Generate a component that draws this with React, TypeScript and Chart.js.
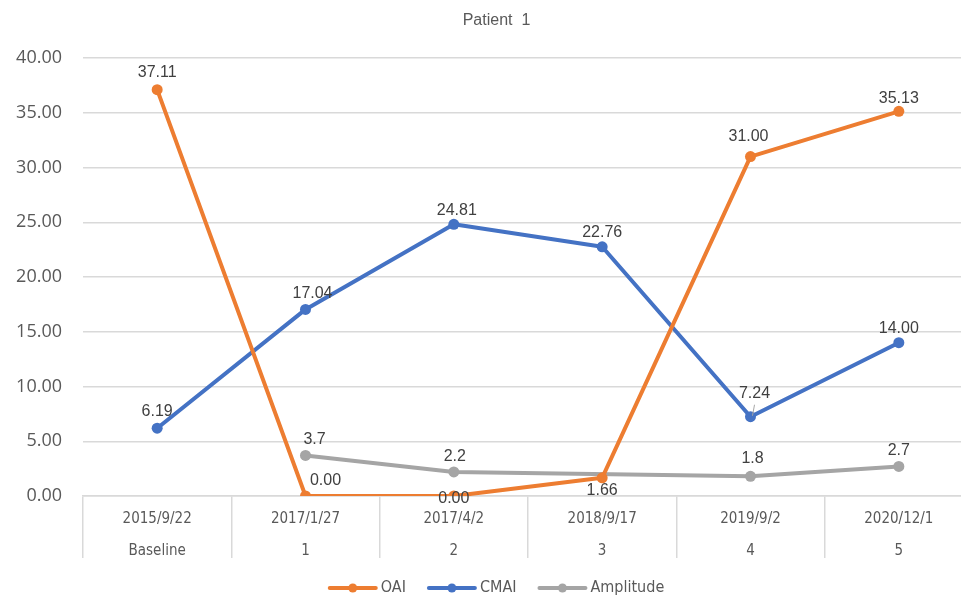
import React, { useEffect, useRef } from "react";
import { Chart, registerables } from "chart.js";

Chart.register(...registerables);

const dateLabels = ["2015/9/22", "2017/1/27", "2017/4/2", "2018/9/17", "2019/9/2", "2020/12/1"];
const visitLabels = ["Baseline", "1", "2", "3", "4", "5"];
const oaiValues = [37.11, 0.0, 0.0, 1.66, 31.0, 35.13];
const cmaiValues = [6.19, 17.04, 24.81, 22.76, 7.24, 14.0];
const amplitudeValues: (number | null)[] = [null, 3.7, 2.2, null, 1.8, 2.7];
const oaiLabelText = ["37.11", "0.00", "0.00", "1.66", "31.00", "35.13"];
const cmaiLabelText = ["6.19", "17.04", "24.81", "22.76", "7.24", "14.00"];
const amplitudeLabelText = ["", "3.7", "2.2", "", "1.8", "2.7"];
const titleText = "Patient  1";
const yMin = 0;
const yMax = 40;
const yStep = 5;

const COLORS = { oai: "#ED7D31", cmai: "#4472C4", amp: "#A5A5A5" };
const TEXT = "#595959";
const LABEL_TEXT = "#404040";
const GRID = "#D9D9D9";
const NARROW = "'Liberation Sans Narrow', 'DejaVu Sans Condensed', sans-serif";
const SANS = "'Liberation Sans', Arial, sans-serif";

// label placement offsets (dx, dy) relative to the point, per dataset/point
const labelOffsets: Record<string, [number, number][]> = {
  OAI: [[0, -17], [20, -15], [0, 3], [0, 13], [-2, -20], [0, -13]],
  CMAI: [[0, -17], [7, -16], [3, -14], [0, -14], [4, -23], [0, -14]],
  Amplitude: [[0, -16], [9, -16], [1, -15], [0, -16], [2, -18], [0, -16]],
};

const overlayPlugin = {
  id: "overlay",
  afterDatasetsDraw(chart: any) {
    const ctx = chart.ctx;
    const texts = [oaiLabelText, cmaiLabelText, amplitudeLabelText];
    ctx.save();
    chart.data.datasets.forEach((ds: any, di: number) => {
      const meta = chart.getDatasetMeta(di);
      const offs = labelOffsets[ds.label];
      meta.data.forEach((pt: any, i: number) => {
        const t = texts[di][i];
        if (!t || ds.data[i] === null) return;
        const [dx, dy] = offs[i];
        ctx.font = `16px ${SANS}`;
        ctx.fillStyle = LABEL_TEXT;
        ctx.textAlign = "center";
        ctx.textBaseline = "middle";
        ctx.fillText(t, pt.x + dx, pt.y + dy);
        if (ds.label === "CMAI" && i === 4) {
          ctx.strokeStyle = "#A6A6A6";
          ctx.lineWidth = 1;
          ctx.beginPath();
          ctx.moveTo(pt.x + 2, pt.y - 1);
          ctx.lineTo(pt.x + 4, pt.y - 12);
          ctx.stroke();
        }
      });
    });
    ctx.restore();
  },
  afterDraw(chart: any) {
    const ctx = chart.ctx;
    const x = chart.scales.x;
    const area = chart.chartArea;
    ctx.save();
    ctx.font = `15px ${NARROW}`;
    ctx.fillStyle = TEXT;
    ctx.textAlign = "center";
    ctx.textBaseline = "middle";
    dateLabels.forEach((d, i) => {
      const px = x.getPixelForValue(i);
      ctx.fillText(d, px, area.bottom + 23);
      ctx.fillText(visitLabels[i], px, area.bottom + 55);
    });
    const cx = chart.width / 2;
    ctx.font = `16px ${SANS}`;
    ctx.fillStyle = TEXT;
    ctx.fillText(titleText, cx, 21);
    const items = [
      { label: "OAI", color: COLORS.oai },
      { label: "CMAI", color: COLORS.cmai },
      { label: "Amplitude", color: COLORS.amp },
    ];
    ctx.font = `16px ${NARROW}`;
    const lineW = 48;
    const gapText = 4;
    const gapItem = 22;
    const widths = items.map((it) => lineW + gapText + ctx.measureText(it.label).width);
    const total = widths.reduce((a, b) => a + b, 0) + gapItem * (items.length - 1);
    let lx = cx - total / 2;
    const ly = 588;
    items.forEach((it, i) => {
      ctx.strokeStyle = it.color;
      ctx.lineWidth = 4;
      ctx.lineCap = "round";
      ctx.beginPath();
      ctx.moveTo(lx + 1, ly);
      ctx.lineTo(lx + lineW - 1, ly);
      ctx.stroke();
      ctx.fillStyle = it.color;
      ctx.beginPath();
      ctx.arc(lx + lineW / 2, ly, 4.5, 0, Math.PI * 2);
      ctx.fill();
      ctx.fillStyle = TEXT;
      ctx.textAlign = "left";
      ctx.fillText(it.label, lx + lineW + gapText, ly);
      lx += widths[i] + gapItem;
    });
    ctx.restore();
  },
};

export default function App() {
  const ref = useRef<HTMLCanvasElement | null>(null);
  useEffect(() => {
    if (!ref.current) return;
    const mk = (label: string, data: (number | null)[], color: string) => ({
      label,
      data,
      borderColor: color,
      backgroundColor: color,
      pointBackgroundColor: color,
      pointBorderColor: color,
      borderWidth: 4,
      pointRadius: 5.5,
      pointBorderWidth: 0,
      tension: 0,
      spanGaps: true,
      borderJoinStyle: "round" as const,
      borderCapStyle: "round" as const,
    });
    const chart = new Chart(ref.current, {
      type: "line",
      data: {
        labels: dateLabels,
        datasets: [
          mk("OAI", oaiValues, COLORS.oai),
          mk("CMAI", cmaiValues, COLORS.cmai),
          mk("Amplitude", amplitudeValues, COLORS.amp),
        ],
      },
      options: {
        responsive: false,
        animation: false,
        devicePixelRatio: 1,
        layout: { padding: { top: 58, right: 20, left: 0, bottom: 0 } },
        plugins: {
          legend: { display: false },
          title: { display: false },
          tooltip: { enabled: false },
        },
        scales: {
          x: {
            type: "category",
            offset: true,
            grid: {
              offset: true,
              drawOnChartArea: false,
              drawTicks: true,
              tickLength: 62,
              color: GRID,
              lineWidth: 1.5,
            },
            border: { display: true, color: GRID, width: 1.5 },
            ticks: { display: false },
            afterFit(scale: any) {
              scale.height = 100;
            },
          },
          y: {
            min: yMin,
            max: yMax,
            ticks: {
              stepSize: yStep,
              padding: 21,
              color: TEXT,
              font: { family: "'Open Sans', sans-serif", size: 18 },
              callback: (v: any) => Number(v).toFixed(2),
            },
            grid: { color: GRID, lineWidth: 1.5, drawTicks: false },
            border: { display: false },
            afterFit(scale: any) {
              scale.width = 83;
            },
          },
        },
      },
      plugins: [overlayPlugin],
    });
    return () => chart.destroy();
  }, []);
  return (
    <div style={{ position: "fixed", left: 0, top: 0, width: 961, height: 596, overflow: "hidden", background: "#fff" }}>
      <canvas ref={ref} width={993} height={596} style={{ display: "block" }} />
    </div>
  );
}
